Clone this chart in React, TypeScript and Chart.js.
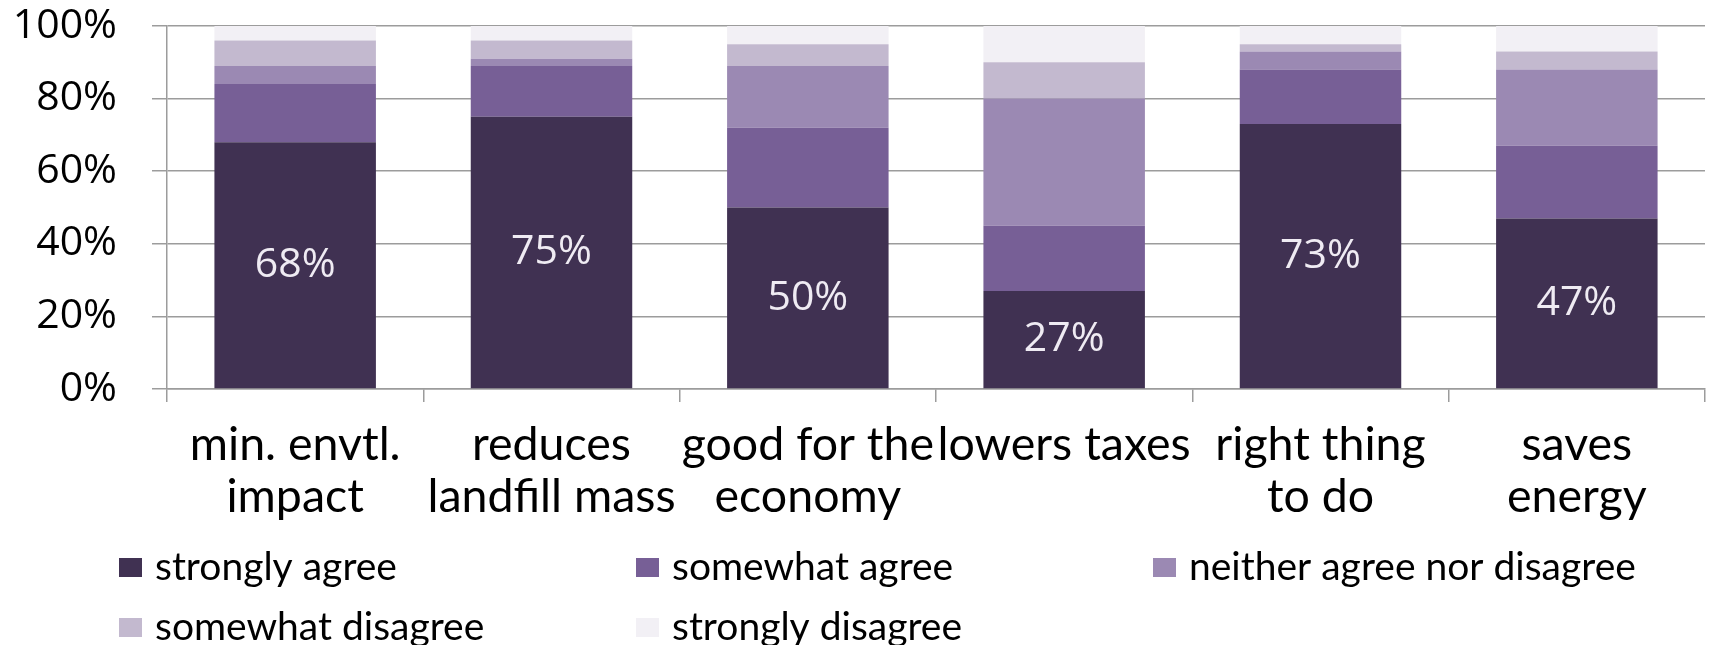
import { useEffect, useRef } from 'react';
import { Chart, registerables } from 'chart.js';

Chart.register(...registerables);

const categories = [
  ['min. envtl.', 'impact'],
  ['reduces', 'landfill mass'],
  ['good for the', 'economy'],
  ['lowers taxes'],
  ['right thing', 'to do'],
  ['saves', 'energy'],
];
const seriesNames = [
  'strongly agree',
  'somewhat agree',
  'neither agree nor disagree',
  'somewhat disagree',
  'strongly disagree',
];
const stronglyAgree = [68, 75, 50, 27, 73, 47];
const somewhatAgree = [16, 14, 22, 18, 15, 20];
const neitherAgree = [5, 2, 17, 35, 5, 21];
const somewhatDisagree = [7, 5, 6, 10, 2, 5];
const stronglyDisagree = [4, 4, 5, 10, 5, 7];
const yTicks = [0, 20, 40, 60, 80, 100];

const seriesColors = ['#403152', '#775F96', '#9B89B3', '#C3B9CF', '#F2F0F5'];
const gridColor = '#9c9c9c';

const dataLabelPlugin = {
  id: 'firstSeriesLabels',
  afterDatasetsDraw(chart: any) {
    const ctx = chart.ctx;
    const meta = chart.getDatasetMeta(0);
    const ds = chart.data.datasets[0];
    ctx.save();
    ctx.font = '41px "Open Sans"';
    ctx.fillStyle = '#EFEBF3';
    ctx.textAlign = 'center';
    ctx.textBaseline = 'middle';
    meta.data.forEach((el: any, i: number) => {
      const p = el.getCenterPoint();
      ctx.fillText(ds.data[i] + '%', p.x, p.y);
    });
    ctx.restore();
  },
};

const gridLegendPlugin = {
  id: 'gridLegend',
  afterDraw(chart: any) {
    const ctx = chart.ctx;
    const cols = 3;
    const x0 = 119;
    const colW = 517;
    const y0 = 567;
    const rowH = 60;
    ctx.save();
    ctx.font = '39px Lato';
    ctx.textAlign = 'left';
    ctx.textBaseline = 'middle';
    chart.data.datasets.forEach((ds: any, i: number) => {
      const col = i % cols;
      const row = Math.floor(i / cols);
      const x = x0 + col * colW;
      const y = y0 + row * rowH;
      ctx.fillStyle = ds.backgroundColor;
      ctx.fillRect(x, y - 9, 23, 19);
      ctx.fillStyle = '#000';
      ctx.fillText(ds.label, x + 36, y);
    });
    ctx.restore();
  },
};

export default function App() {
  const ref = useRef<HTMLCanvasElement>(null);
  useEffect(() => {
    if (!ref.current) return;
    const series = [stronglyAgree, somewhatAgree, neitherAgree, somewhatDisagree, stronglyDisagree];
    const chart = new Chart(ref.current, {
      type: 'bar',
      data: {
        labels: categories as any,
        datasets: series.map((d, i) => ({
          label: seriesNames[i],
          data: d,
          backgroundColor: seriesColors[i],
          borderWidth: 0,
          barPercentage: 0.63,
          categoryPercentage: 1,
        })),
      },
      options: {
        responsive: false,
        animation: false,
        layout: { padding: { top: 26, right: 5, left: 0, bottom: 0 } },
        plugins: { legend: { display: false }, tooltip: { enabled: false } },
        scales: {
          x: {
            stacked: true,
            afterFit: (s: any) => {
              s.height = 256;
              s.paddingLeft = 0;
              s.paddingRight = 0;
            },
            grid: {
              offset: true,
              drawOnChartArea: false,
              drawTicks: true,
              tickLength: 13,
              color: gridColor,
              lineWidth: 1.5,
            },
            border: { display: true, color: gridColor, width: 1.5 },
            ticks: {
              autoSkip: false,
              maxRotation: 0,
              minRotation: 0,
              padding: 17,
              color: '#000',
              font: { family: 'Lato', size: 46.5, lineHeight: '52px' },
            },
          },
          y: {
            stacked: true,
            min: 0,
            max: 100,
            afterFit: (s: any) => {
              s.width = 167;
              s.paddingTop = 0;
              s.paddingBottom = 0;
            },
            afterBuildTicks: (s: any) => {
              s.ticks = yTicks.map((v) => ({ value: v }));
            },
            grid: {
              color: gridColor,
              lineWidth: 1.5,
              drawTicks: true,
              tickLength: 15,
            },
            border: { display: true, color: gridColor, width: 1.5 },
            ticks: {
              padding: 35,
              color: '#000',
              font: { family: '"Open Sans"', size: 41, lineHeight: 1.2 },
              callback: (v: any) => v + '%',
            },
          },
        },
      },
      plugins: [dataLabelPlugin, gridLegendPlugin],
    });
    return () => chart.destroy();
  }, []);
  return (
    <div style={{ position: 'fixed', left: 0, top: 0, width: 1710, height: 645, background: '#fff' }}>
      <canvas ref={ref} width={1710} height={645} style={{ display: 'block' }} />
    </div>
  );
}
